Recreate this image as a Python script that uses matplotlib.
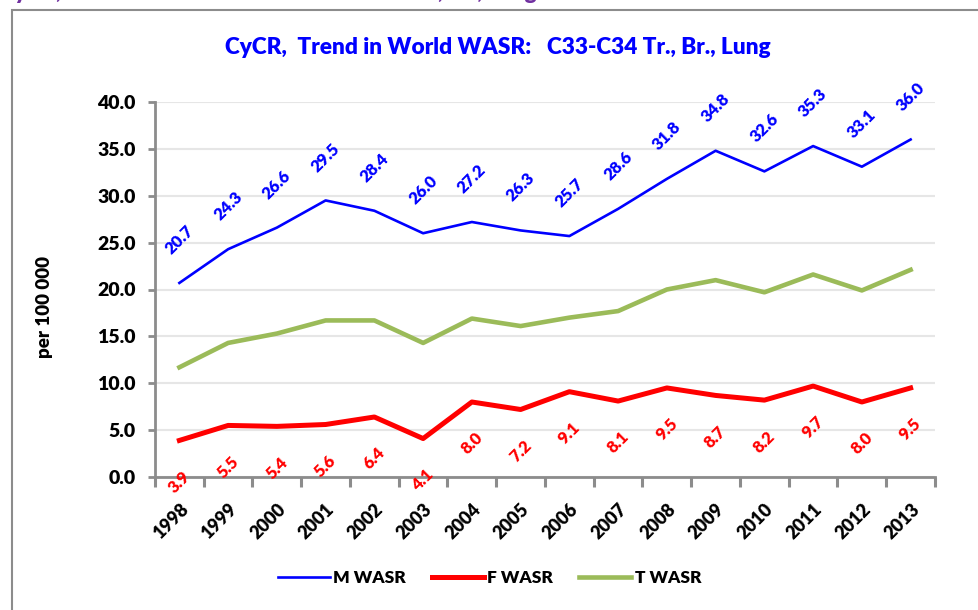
import matplotlib.pyplot as plt
from matplotlib.patches import Rectangle

plt.rcParams['font.family'] = ['Lato', 'DejaVu Sans']
plt.rcParams['font.weight'] = 'heavy'

# Data
years = ['1998', '1999', '2000', '2001', '2002', '2003', '2004', '2005',
         '2006', '2007', '2008', '2009', '2010', '2011', '2012', '2013']
m_wasr = [20.7, 24.3, 26.6, 29.5, 28.4, 26.0, 27.2, 26.3,
          25.7, 28.6, 31.8, 34.8, 32.6, 35.3, 33.1, 36.0]
f_wasr = [3.9, 5.5, 5.4, 5.6, 6.4, 4.1, 8.0, 7.2,
          9.1, 8.1, 9.5, 8.7, 8.2, 9.7, 8.0, 9.5]
t_wasr = [11.7, 14.3, 15.3, 16.7, 16.7, 14.3, 16.9, 16.1,
          17.0, 17.7, 20.0, 21.0, 19.7, 21.6, 19.9, 22.1]
yticks = [0, 5, 10, 15, 20, 25, 30, 35, 40]

fig = plt.figure(figsize=(9.79, 6.10), dpi=100)
ax = fig.add_axes([155 / 979, 1 - 477 / 610, 780 / 979, 375 / 610])

# chart frame (cut off on right and bottom like the screenshot)
fig.patches.append(Rectangle((12 / 979, -0.05), 1.2, 1 - 10 / 610 + 0.05,
                             transform=fig.transFigure, fill=False,
                             edgecolor='#8c8c8c', linewidth=1.5))
# partly hidden heading above the frame
fig.text(0.0, 1.012, 'CyCR,  Trend in World WASR:   C33-C34 Tr., Br., Lung',
         color='#7030A0', fontsize=16, fontweight='heavy', ha='left', va='center')

x = list(range(len(years)))
ax.plot(x, t_wasr, color='#9BBB59', linewidth=3.3, label='T WASR', zorder=3)
ax.plot(x, f_wasr, color='#FF0000', linewidth=3.6, label='F WASR', zorder=3)
ax.plot(x, m_wasr, color='#0000FF', linewidth=1.9, label='M WASR', zorder=4)

for xi, v in zip(x, m_wasr):
    ax.annotate(f'{v:.1f}', (xi, v), xytext=(0, 31), textcoords='offset points',
                ha='center', va='center', rotation=45, color='#0000FF',
                fontsize=12, fontweight='heavy', annotation_clip=False)
for xi, v in zip(x, f_wasr):
    ax.annotate(f'{v:.1f}', (xi, v), xytext=(0, -30), textcoords='offset points',
                ha='center', va='center', rotation=45, color='#FF0000',
                fontsize=12, fontweight='heavy', annotation_clip=False)

ax.set_xlim(-0.5, len(years) - 0.5)
ax.set_ylim(0, 40)
ax.set_yticks(yticks)
ax.set_yticklabels([f'{t:.1f}' for t in yticks], fontsize=14, fontweight='heavy')
# year labels on major ticks (hidden marks), category boundaries as minor ticks
ax.set_xticks(x)
ax.set_xticklabels(years, rotation=45, ha='right', rotation_mode='anchor',
                   fontsize=13, fontweight='heavy')
ax.set_xticks([i - 0.5 for i in range(len(years) + 1)], minor=True)
ax.tick_params(axis='x', which='major', length=0, pad=17)
ax.tick_params(axis='x', which='minor', bottom=True, direction='out',
               length=7, width=2.2, color='#8c8c8c')
ax.tick_params(axis='y', length=5, width=2, color='#8c8c8c', pad=9)

ax.grid(axis='y', color='#e6e6e6', linewidth=1.5)
ax.set_axisbelow(True)
for s in ['top', 'right']:
    ax.spines[s].set_visible(False)
for s in ['left', 'bottom']:
    ax.spines[s].set_color('#8c8c8c')
    ax.spines[s].set_linewidth(2)

fig.text(45 / 979, 1 - 307 / 610, 'per 100 000', rotation=90, ha='center',
         va='center', fontsize=13.5, fontweight='heavy')
fig.text(498 / 979, 1 - 47 / 610,
         'CyCR,  Trend in World WASR:   C33-C34 Tr., Br., Lung',
         color='#0000FF', fontsize=16.3, fontweight='heavy', ha='center', va='center')

handles, labels = ax.get_legend_handles_labels()
order = [2, 1, 0]
fig.legend([handles[i] for i in order], [labels[i] for i in order],
           loc='center', bbox_to_anchor=(0.5, 1 - 578 / 610), ncol=3,
           frameon=False, fontsize=12.5, handlelength=3, columnspacing=1.5,
           handletextpad=0.2)

fig.savefig('out.png', dpi=100)
